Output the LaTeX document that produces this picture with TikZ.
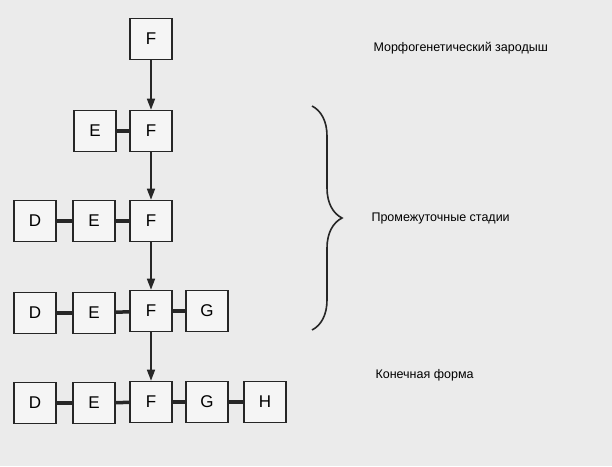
\documentclass[tikz,border=0pt]{standalone}
\usepackage{fontspec}
\setmainfont{Liberation Sans}
\usetikzlibrary{arrows.meta,decorations.pathreplacing}
\begin{document}
\begin{tikzpicture}[x=1pt,y=-1pt,
  box/.style={draw=black!85,line width=1.6pt,minimum width=42pt,minimum height=41pt,fill=white!92!gray,font=\fontsize{17}{20}\selectfont},
  link/.style={line width=3.5pt,draw=black!85},
  arr/.style={line width=1.6pt,draw=black!85,-{Triangle[length=11pt,width=8pt]}},
  lab/.style={font=\fontsize{12.5}{15}\selectfont,anchor=west}]
\fill[black!8] (0,0) rectangle (612,466);
\useasboundingbox (0,0) rectangle (612,466);
% row 1
\node[box] (F1) at (151,39) {F};
% row 2
\node[box] (E2) at (95,131) {E};
\node[box] (F2) at (151,131) {F};
% row 3
\node[box] (D3) at (35,221) {D};
\node[box] (E3) at (94,221) {E};
\node[box] (F3) at (151,221) {F};
% row 4
\node[box] (D4) at (35,313) {D};
\node[box] (E4) at (94,313) {E};
\node[box] (F4) at (151,311) {F};
\node[box] (G4) at (207,311) {G};
% row 5
\node[box] (D5) at (35,403) {D};
\node[box] (E5) at (94,403) {E};
\node[box] (F5) at (151,402) {F};
\node[box] (G5) at (207,402) {G};
\node[box] (H5) at (265,402) {H};
% links
\draw[link] (E2) -- (F2);
\draw[link] (D3) -- (E3); \draw[link] (E3) -- (F3);
\draw[link] (D4) -- (E4); \draw[link] (E4) -- (F4); \draw[link] (F4) -- (G4);
\draw[link] (D5) -- (E5); \draw[link] (E5) -- (F5); \draw[link] (F5) -- (G5); \draw[link] (G5) -- (H5);
% arrows
\draw[arr] (F1) -- (F2);
\draw[arr] (F2) -- (F3);
\draw[arr] (F3) -- (F4);
\draw[arr] (F4) -- (F5);
% brace
\coordinate (bt) at (312,106);
\coordinate (bb) at (312,330);
\draw[line width=1.6pt,black!85,decorate,decoration={brace,amplitude=30pt,aspect=0.5}] (bt) -- (bb);
% labels
\node[lab] (L1) at (370,48) {Морфогенетический зародыш};
\node[lab] (L2) at (368,218) {Промежуточные стадии};
\node[lab] (L3) at (372,375) {Конечная форма};
\end{tikzpicture}
\end{document}
